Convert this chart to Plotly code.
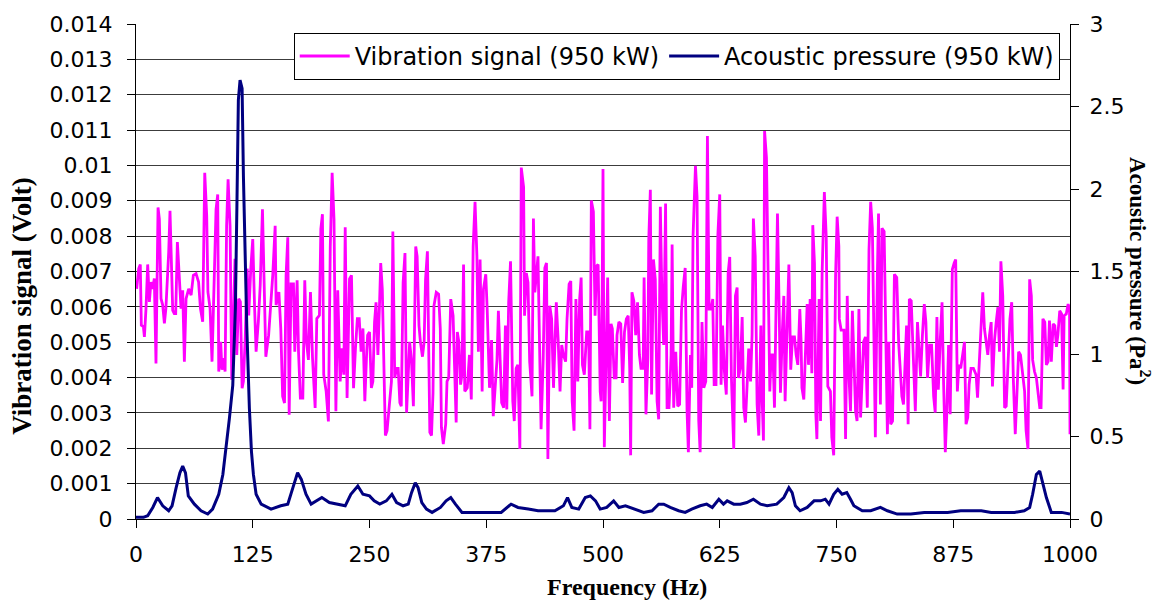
import plotly.graph_objects as go

# Vibration signal (950 kW) -- frequency (Hz) and amplitude (Volt)
vib_freq = [
    0.7, 2.9, 4.6, 5.7, 7.9, 9, 10.7, 12.5, 14.3, 16, 17.9, 19.6, 21.4, 23.6, 25, 26.8, 28.6, 30.4, 32, 35,
    36.4, 38.2, 39.3, 41, 42.5, 44.3, 46.4, 48.2, 50, 51.8, 53.6, 56.4, 59, 61.4, 64.3, 67, 69, 71.4, 73.6, 75.7,
    77, 79.3, 81.4, 84, 85.7, 87.5, 88.6, 90.7, 92, 94, 95.4, 97, 98.6, 100.7, 102.5, 104, 106, 107.9, 110, 111.8,
    113.6, 115, 117, 119, 120.7, 122.9, 125, 127, 128.6, 131, 133, 135.4, 137, 139, 142, 144, 146.4, 149, 150, 153,
    155, 157, 159, 160.7, 162.5, 164, 166, 168.6, 170, 172.5, 174, 176, 178.6, 180.7, 182.5, 184.6, 186.8, 189, 191.8, 193.6,
    196.4, 197.9, 199.6, 201, 203.6, 206, 208, 210, 212, 214, 216, 218.6, 220.7, 222.5, 224, 226, 228.6, 230.7, 232.9, 235,
    237, 239, 241, 243, 245, 247, 248, 250, 252, 253.6, 255.4, 257, 259, 260.8, 262, 263.7, 265, 266, 267, 268.8,
    271.7, 273.5, 275, 277, 278.9, 280.7, 282.5, 284, 286, 288, 289.7, 291.5, 293, 295, 297, 298, 299.5, 301, 303, 304.5,
    306.7, 308.5, 310, 312, 313.5, 314.6, 316.4, 318, 319, 321.5, 324, 325.8, 327, 329, 331.6, 333, 334.8, 336, 337, 339.5,
    341, 342.8, 344, 345.7, 347.5, 349, 350.7, 352, 354.7, 357, 359, 361, 363, 365, 366.6, 368.4, 370.6, 372, 374.5, 376,
    378.5, 380.7, 382.5, 384, 386.5, 388, 390, 391.5, 393.7, 395.5, 397, 399, 401, 402, 403.4, 405, 407, 408.8, 411, 412.5,
    415, 416, 417.9, 419.7, 421.5, 424, 425.5, 427, 428.7, 430.4, 432, 433.7, 436, 437.7, 439.5, 441, 443, 445, 447, 448.6,
    450, 452, 454, 455.8, 457.6, 460, 461.5, 463.7, 465.5, 467, 469, 471, 473, 475, 476.6, 478, 480, 482.5, 484.6, 486,
    487.5, 489.7, 491.5, 493, 494.8, 497, 498, 499, 500, 501.4, 503, 505, 506.8, 508.6, 510, 512, 514, 515, 517, 519,
    521, 523, 525, 527, 528.6, 529.6, 531, 533, 535, 537, 539, 540.7, 543, 544, 546, 548, 549, 550.7, 552, 554,
    556, 557.9, 559.6, 561.4, 563, 565, 567, 568.6, 570.7, 572.9, 574, 575.7, 577.9, 580, 582, 584, 586, 588, 590, 591.4,
    593.6, 595, 596.4, 599, 600.7, 602.5, 604, 606, 607.9, 610, 611.8, 613.6, 615.7, 617.5, 619, 621, 623, 625, 626.4, 628,
    630, 632, 634, 635.7, 637.5, 640, 641.8, 643.6, 645, 647, 649, 650.7, 652.5, 654, 656, 658, 659.6, 661, 663, 665,
    666.8, 669, 670, 671.8, 673, 675, 676.8, 678.6, 680, 682, 683.6, 685.7, 686.8, 688.6, 690, 692, 693.6, 695, 697, 699,
    701, 702.9, 705, 706.8, 708.6, 710.7, 712, 713, 715, 716.8, 718.6, 720, 721.8, 723.6, 724.6, 726.4, 727.9, 729, 731.4, 732.9,
    734.6, 737, 739, 740.7, 743.5, 745, 747, 749, 750.7, 752.5, 753, 755, 758, 759.7, 761.5, 763, 765, 767, 768.6, 770.4,
    772, 774, 775.8, 777.6, 779, 781, 783, 784.8, 786.6, 788.4, 790, 791.6, 793.7, 795, 797, 798.7, 801, 803, 804.5, 806,
    808, 810, 812, 814.5, 816.6, 818.8, 820, 821.7, 823, 825, 826.7, 828, 830, 832, 834.4, 836.7, 838, 840, 842, 844,
    845.7, 847.5, 849.6, 851.8, 854, 855.7, 857.5, 859, 861, 863, 864.7, 866.5, 868, 870, 871.7, 874, 876, 877.6, 879.4, 881,
    883, 885, 887, 888.7, 890.5, 892, 894, 896.6, 899.5, 901, 903, 905, 906.6, 908.4, 910, 912, 913.8, 915.6, 917, 919,
    921, 922.8, 924.5, 926, 928, 930, 931.7, 933.5, 935.7, 937.6, 939.4, 941.4, 943.5, 945, 947, 949, 951.4, 953, 955, 956.8,
    958.6, 960, 962, 964, 966, 967.6, 969, 971, 973, 974.7, 976.5, 978, 980, 982, 983.7, 985.5, 987, 989, 991, 992.6,
    993.7, 996, 998, 999.5, 1000,
]
vib_volt = [
    0.00651, 0.00708, 0.0072, 0.00548, 0.00544, 0.00515, 0.00595, 0.0072, 0.00614, 0.0067, 0.00651, 0.0068, 0.0044, 0.00881, 0.00848, 0.00623, 0.00605, 0.00553, 0.00595, 0.00754,
    0.00872, 0.00708, 0.0059, 0.00581, 0.00581, 0.00783, 0.0067, 0.00595, 0.00647, 0.00445, 0.00623, 0.00651, 0.00633, 0.00689, 0.00694, 0.0067, 0.00595, 0.00558, 0.00979, 0.00858,
    0.00642, 0.00595, 0.00445, 0.00689, 0.00876, 0.00918, 0.00417, 0.00501, 0.00422, 0.00455, 0.00417, 0.00829, 0.00961, 0.00829, 0.00394, 0.00539, 0.00736, 0.00464, 0.00623, 0.00614,
    0.0037, 0.00389, 0.00515, 0.00708, 0.00576, 0.00708, 0.00792, 0.00595, 0.00473, 0.00558, 0.00661, 0.00876, 0.00661, 0.00459, 0.0052, 0.00595, 0.00689, 0.00829, 0.00605, 0.00642,
    0.00539, 0.00347, 0.00328, 0.00689, 0.00797, 0.00295, 0.00665, 0.00665, 0.00473, 0.00675, 0.00473, 0.00342, 0.00342, 0.00675, 0.00501, 0.0045, 0.00642, 0.00455, 0.00314, 0.00567,
    0.00576, 0.0082, 0.00862, 0.00408, 0.00361, 0.00276, 0.00769, 0.00979, 0.00848, 0.00305, 0.00647, 0.00389, 0.00483, 0.00408, 0.00825, 0.00342, 0.00679, 0.00689, 0.0037, 0.00483,
    0.00567, 0.00567, 0.00473, 0.00539, 0.00333, 0.00473, 0.0052, 0.00529, 0.00371, 0.00389, 0.00557, 0.00613, 0.00464, 0.00613, 0.00724, 0.0065, 0.00464, 0.00277, 0.00236, 0.0025,
    0.00333, 0.00389, 0.00813, 0.00399, 0.00426, 0.00426, 0.00329, 0.00319, 0.00669, 0.00752, 0.00301, 0.00426, 0.00501, 0.00445, 0.00319, 0.00501, 0.00771, 0.00743, 0.00547, 0.00501,
    0.00459, 0.00501, 0.00678, 0.00757, 0.00426, 0.00245, 0.00236, 0.00357, 0.00603, 0.00641, 0.00636, 0.00538, 0.00259, 0.00212, 0.00268, 0.00389, 0.00399, 0.00557, 0.00622, 0.00575,
    0.00464, 0.00273, 0.00529, 0.00501, 0.0038, 0.00408, 0.0072, 0.00361, 0.00371, 0.00464, 0.00338, 0.00771, 0.00897, 0.00743, 0.00473, 0.00734, 0.00361, 0.0065, 0.00692, 0.00594,
    0.00371, 0.00506, 0.00291, 0.00361, 0.0045, 0.00589, 0.00417, 0.00329, 0.00315, 0.00547, 0.0031, 0.00613, 0.00729, 0.00575, 0.00333, 0.00277, 0.00426, 0.00436, 0.00198, 0.00994,
    0.00939, 0.00575, 0.00696, 0.00669, 0.00445, 0.00347, 0.0085, 0.00641, 0.00696, 0.00743, 0.00501, 0.00254, 0.00454, 0.0071, 0.00724, 0.0017, 0.00603, 0.00566, 0.00371, 0.00501,
    0.00613, 0.00506, 0.00361, 0.00492, 0.00464, 0.00445, 0.00566, 0.00664, 0.00673, 0.00333, 0.0025, 0.00622, 0.00389, 0.00622, 0.00683, 0.00436, 0.00408, 0.00529, 0.00529, 0.00254,
    0.00901, 0.00869, 0.00575, 0.00715, 0.0072, 0.00361, 0.00333, 0.00594, 0.0099, 0.00203, 0.00445, 0.00683, 0.00277, 0.00552, 0.00538, 0.00399, 0.00399, 0.0052, 0.00557, 0.00552,
    0.00385, 0.00529, 0.00566, 0.00575, 0.00426, 0.0018, 0.00641, 0.00617, 0.0052, 0.00613, 0.00464, 0.00426, 0.00426, 0.00683, 0.00296, 0.00454, 0.0079, 0.00931, 0.00352, 0.00734,
    0.00678, 0.00333, 0.00282, 0.00883, 0.00641, 0.00492, 0.00892, 0.00315, 0.00315, 0.00464, 0.00776, 0.00315, 0.00473, 0.00319, 0.00324, 0.00589, 0.00659, 0.0071, 0.00305, 0.00189,
    0.00464, 0.00371, 0.00799, 0.00999, 0.00911, 0.00277, 0.00189, 0.00557, 0.00371, 0.00389, 0.01083, 0.00594, 0.00594, 0.00622, 0.0038, 0.0038, 0.00804, 0.00918, 0.0038, 0.00547,
    0.00417, 0.00352, 0.00696, 0.00741, 0.00399, 0.00198, 0.00631, 0.00655, 0.00399, 0.00426, 0.00571, 0.00315, 0.00273, 0.00361, 0.00482, 0.00389, 0.0052, 0.0085, 0.00743, 0.00324,
    0.00236, 0.00547, 0.00371, 0.00222, 0.01097, 0.01022, 0.00696, 0.00361, 0.00464, 0.00464, 0.00315, 0.00669, 0.00864, 0.00594, 0.00357, 0.00529, 0.00631, 0.00333, 0.00538, 0.0072,
    0.00422, 0.00515, 0.00515, 0.00464, 0.00436, 0.00594, 0.0051, 0.00371, 0.00338, 0.00454, 0.00608, 0.00436, 0.00622, 0.00412, 0.00831, 0.00724, 0.00296, 0.00226, 0.00622, 0.00277,
    0.00696, 0.00925, 0.00799, 0.00375, 0.00361, 0.00231, 0.0018, 0.00687, 0.00855, 0.00771, 0.00566, 0.00534, 0.00534, 0.00226, 0.00631, 0.00426, 0.00305, 0.00589, 0.00464, 0.00305,
    0.00277, 0.00594, 0.00287, 0.00426, 0.00501, 0.00515, 0.00315, 0.00762, 0.00897, 0.00822, 0.00473, 0.00231, 0.00687, 0.00864, 0.00324, 0.00822, 0.00813, 0.00501, 0.0024, 0.00501,
    0.00268, 0.00277, 0.00692, 0.00683, 0.00496, 0.00399, 0.00347, 0.00324, 0.00436, 0.00547, 0.00268, 0.00622, 0.00617, 0.00445, 0.00305, 0.00557, 0.00492, 0.00403, 0.0052, 0.00608,
    0.00557, 0.00399, 0.00492, 0.00492, 0.00347, 0.00301, 0.00571, 0.00366, 0.00501, 0.00613, 0.0038, 0.00189, 0.00291, 0.00492, 0.00296, 0.00706, 0.00724, 0.00734, 0.00361, 0.00436,
    0.00426, 0.00464, 0.00501, 0.00268, 0.00287, 0.0038, 0.00426, 0.00426, 0.00408, 0.00343, 0.00464, 0.00585, 0.00641, 0.00538, 0.00506, 0.00464, 0.0052, 0.00557, 0.00375, 0.00501,
    0.00557, 0.00599, 0.00473, 0.00729, 0.00631, 0.00315, 0.00319, 0.00436, 0.00566, 0.00613, 0.00389, 0.0024, 0.0038, 0.00473, 0.00464, 0.00417, 0.00361, 0.0025, 0.00198, 0.00678,
    0.00631, 0.0045, 0.00417, 0.00399, 0.00361, 0.00315, 0.00315, 0.00566, 0.00557, 0.00436, 0.00445, 0.00561, 0.00445, 0.00552, 0.00547, 0.00487, 0.0052, 0.00589, 0.0058, 0.00366,
    0.00575, 0.0058, 0.00608, 0.00594, 0.0024,
]

# Acoustic pressure (950 kW) -- frequency (Hz) and Pa^2
ac_freq = [
    0, 3.6, 8, 12.5, 18, 23, 28.6, 35, 38.6, 43, 47, 50, 53, 56, 62.5, 69.6, 76.8, 82, 88.6, 93,
    97.5, 100, 103.6, 106.4, 108, 109.6, 111.4, 113.6, 115, 116.4, 118.6, 121.4, 123.6, 125.7, 128.6, 134, 144.6, 155, 162.5, 168,
    173, 177, 182, 187.5, 193, 199, 207, 216, 224, 230, 237.5, 243, 250, 255, 261, 268, 274, 279, 286, 291.5,
    295, 299, 302, 306, 311, 317, 326, 332, 337, 342, 349, 369, 391, 401.6, 409, 420, 430.5, 448.5, 457.6, 462,
    466.6, 474, 481, 486.5, 492, 497, 504, 511.4, 517, 524, 533, 543.6, 552.5, 559.6, 565, 572, 581, 588, 595, 604,
    611, 617, 624, 629, 633, 640, 647, 654, 661, 668.6, 675.7, 686, 693.6, 699, 702.5, 706, 711, 718.6, 726, 733,
    738, 742, 747, 751.4, 756, 761, 765, 768.6, 777.6, 786.6, 797, 804.5, 815, 829.6, 844, 858, 869, 883, 905, 915.6,
    928, 940.7, 951, 956.8, 960, 964, 967.6, 971, 974.7, 980, 991, 1000,
]
ac_pa2 = [
    0.01, 0.01, 0.01, 0.02, 0.07, 0.13, 0.08, 0.05, 0.08, 0.19, 0.28, 0.32, 0.28, 0.14, 0.09, 0.05, 0.03, 0.06, 0.15, 0.27,
    0.47, 0.61, 0.81, 1.28, 1.88, 2.54, 2.66, 2.61, 2.08, 1.7, 1.17, 0.67, 0.41, 0.27, 0.15, 0.09, 0.06, 0.08, 0.09, 0.19,
    0.28, 0.24, 0.15, 0.09, 0.11, 0.13, 0.1, 0.09, 0.08, 0.15, 0.2, 0.15, 0.14, 0.11, 0.09, 0.11, 0.15, 0.1, 0.08, 0.09,
    0.16, 0.22, 0.19, 0.1, 0.06, 0.04, 0.07, 0.11, 0.13, 0.09, 0.04, 0.04, 0.04, 0.09, 0.07, 0.06, 0.05, 0.05, 0.08, 0.13,
    0.07, 0.06, 0.13, 0.14, 0.11, 0.06, 0.07, 0.11, 0.07, 0.08, 0.06, 0.04, 0.05, 0.09, 0.09, 0.07, 0.05, 0.04, 0.06, 0.08,
    0.09, 0.07, 0.12, 0.09, 0.11, 0.09, 0.09, 0.1, 0.12, 0.09, 0.08, 0.09, 0.13, 0.19, 0.16, 0.08, 0.05, 0.07, 0.11, 0.11,
    0.12, 0.09, 0.15, 0.18, 0.15, 0.16, 0.12, 0.08, 0.05, 0.05, 0.07, 0.05, 0.03, 0.03, 0.04, 0.04, 0.04, 0.05, 0.05, 0.04,
    0.04, 0.04, 0.05, 0.07, 0.15, 0.27, 0.29, 0.22, 0.13, 0.04, 0.04, 0.03,
]

x_ticks = [0, 125, 250, 375, 500, 625, 750, 875, 1000]
y_ticks = [0, 0.001, 0.002, 0.003, 0.004, 0.005, 0.006, 0.007, 0.008, 0.009, 0.01, 0.011, 0.012, 0.013, 0.014]
y_labels = ["0", "0.001", "0.002", "0.003", "0.004", "0.005", "0.006", "0.007", "0.008", "0.009",
            "0.01", "0.011", "0.012", "0.013", "0.014"]
y2_ticks = [0, 0.5, 1, 1.5, 2, 2.5, 3]
y2_labels = ["0", "0.5", "1", "1.5", "2", "2.5", "3"]

tick_font = dict(family="DejaVu Sans", size=22, color="black")

fig = go.Figure()

fig.add_trace(go.Scatter(
    x=vib_freq, y=vib_volt,
    mode="lines",
    name="Vibration signal (950 kW)",
    line=dict(color="#FF00FF", width=2.8),
))

fig.add_trace(go.Scatter(
    x=ac_freq, y=ac_pa2,
    mode="lines",
    name="Acoustic pressure (950 kW)",
    line=dict(color="#000080", width=3),
    yaxis="y2",
))

fig.update_layout(
    width=1170, height=607, autosize=False,
    margin=dict(l=136, r=100, t=18, b=88),
    paper_bgcolor="white", plot_bgcolor="white",
    xaxis=dict(
        range=[0, 1000], tickvals=x_ticks,
        showgrid=False, zeroline=False,
        showline=True, linecolor="black", linewidth=1,
        ticks="outside", ticklen=8, tickcolor="black",
        ticklabelstandoff=8,
        tickfont=tick_font,
    ),
    yaxis=dict(
        range=[0, 0.014], tickvals=y_ticks, ticktext=y_labels,
        showgrid=True, gridcolor="#3c3c3c", gridwidth=1,
        zeroline=False,
        showline=True, linecolor="black", linewidth=1,
        ticks="outside", ticklen=8, tickcolor="black",
        ticklabelstandoff=10,
        tickfont=tick_font,
    ),
    yaxis2=dict(
        range=[0, 3], tickvals=y2_ticks, ticktext=y2_labels,
        overlaying="y", side="right",
        showgrid=False, zeroline=False,
        showline=True, linecolor="black", linewidth=1,
        ticks="outside", ticklen=8, tickcolor="black",
        ticklabelstandoff=6,
        tickfont=tick_font,
    ),
    legend=dict(
        orientation="h",
        x=0.989, xanchor="right", y=0.982, yanchor="top",
        bgcolor="white", bordercolor="black", borderwidth=1,
        font=dict(family="DejaVu Sans", size=24, color="black"),
        itemwidth=50,
    ),
    showlegend=True,
    annotations=[
        dict(text="<b>Frequency (Hz)</b>", xref="paper", yref="paper",
             x=0.526, y=-0.138, xanchor="center", yanchor="middle",
             showarrow=False, font=dict(family="Liberation Serif", size=24, color="black")),
        dict(text="<b>Vibration signal (Volt)</b>", xref="paper", yref="paper",
             x=-0.122, y=0.431, xanchor="center", yanchor="middle", textangle=-90,
             showarrow=False, font=dict(family="Liberation Serif", size=27, color="black")),
        dict(text="<b>Acoustic pressure (Pa<sup>2</sup>)</b>", xref="paper", yref="paper",
             x=1.075, y=0.501, xanchor="center", yanchor="middle", textangle=90,
             showarrow=False, font=dict(family="Liberation Serif", size=23, color="black")),
    ],
)

# drop the default page margin so the figure sits at the window origin
fig.write_html("out.html", config={"displayModeBar": False},
               post_script="document.body.style.margin='0';")
